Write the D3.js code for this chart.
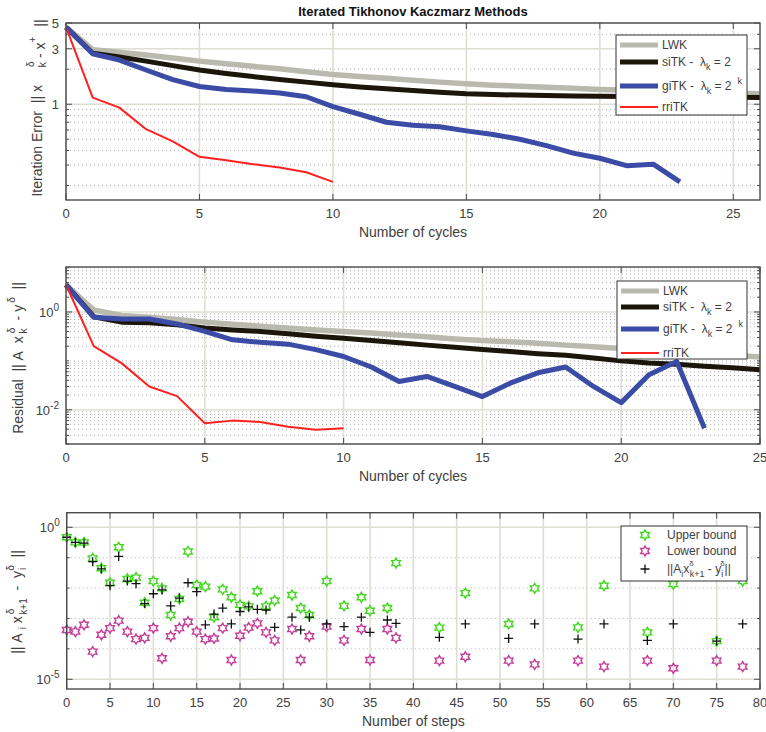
<!DOCTYPE html>
<html>
<head>
<meta charset="utf-8">
<script src="https://cdn.jsdelivr.net/npm/d3@7/dist/d3.min.js"></script>
<style>
  body { margin: 0; background: #fff; }
  text { font-family: "Liberation Sans", Arial, sans-serif; fill: #404040; }
</style>
</head>
<body>
<div class="bbox"></div>
<script>
// ---- data ----
// iteration error per cycle (index = cycle)
const lwkErr = [4.6, 2.95, 2.8, 2.65, 2.5, 2.35, 2.23, 2.12, 2.02, 1.9, 1.8, 1.73, 1.67, 1.61, 1.55, 1.5, 1.46, 1.43, 1.4, 1.37, 1.34, 1.32, 1.3, 1.28, 1.26, 1.25, 1.23]
const siErr = [4.6, 2.75, 2.55, 2.35, 2.15, 1.97, 1.84, 1.73, 1.63, 1.55, 1.47, 1.41, 1.36, 1.31, 1.27, 1.23, 1.21, 1.2, 1.19, 1.18, 1.17, 1.165, 1.16, 1.155, 1.15, 1.15, 1.145]
const giErr = [4.6, 2.72, 2.4, 1.97, 1.63, 1.42, 1.34, 1.3, 1.25, 1.16, 0.955, 0.82, 0.7, 0.66, 0.64, 0.59, 0.55, 0.5, 0.44, 0.38, 0.343, 0.296, 0.305, 0.215]
const rriErr = [4.6, 1.14, 0.935, 0.61, 0.48, 0.353, 0.33, 0.305, 0.285, 0.26, 0.215]

// residual per cycle
const lwkRes = [3.6, 1.1, 0.85, 0.78, 0.7, 0.62, 0.56, 0.51, 0.47, 0.43, 0.4, 0.37, 0.34, 0.31, 0.28, 0.26, 0.245, 0.23, 0.21, 0.195, 0.18, 0.165, 0.15, 0.14, 0.13, 0.12]
const siRes = [3.6, 0.8, 0.62, 0.6, 0.55, 0.47, 0.43, 0.4, 0.36, 0.32, 0.29, 0.26, 0.235, 0.21, 0.19, 0.17, 0.155, 0.14, 0.13, 0.115, 0.1, 0.09, 0.085, 0.078, 0.072, 0.066]
const giRes = [3.6, 0.78, 0.72, 0.72, 0.57, 0.4, 0.27, 0.24, 0.22, 0.17, 0.123, 0.075, 0.038, 0.048, 0.03, 0.0186, 0.035, 0.057, 0.075, 0.03, 0.014, 0.052, 0.097, 0.0042]
const rriRes = [3.6, 0.2, 0.09, 0.03, 0.019, 0.0053, 0.006, 0.0056, 0.0045, 0.0039, 0.0042]

// per step bounds
const steps = [0, 1, 2, 3, 4, 5, 6, 7, 8, 9, 10, 11, 12, 13, 14, 15, 16, 17, 18, 19, 20, 21, 22, 23, 24, 26, 27, 28, 30, 32, 34, 35, 37, 38, 43, 46, 51, 54, 59, 62, 67, 70, 75, 78]
const upper = [0.47, 0.32, 0.32, 0.095, 0.045, 0.015, 0.22, 0.02, 0.022, 0.0033, 0.017, 0.0098, 0.0013, 0.0044, 0.16, 0.0126, 0.0112, 0.0011, 0.0091, 0.005, 0.0028, 0.0025, 0.0079, 0.0025, 0.0039, 0.0059, 0.0022, 0.0013, 0.017, 0.0026, 0.005, 0.0018, 0.0022, 0.066, 5.0e-4, 0.0068, 6.6e-4, 0.0098, 5.1e-4, 0.012, 3.5e-4, 0.0135, 1.8e-4, 0.017]
const lower = [4.2e-4, 3.7e-4, 6.2e-4, 8.1e-5, 2.9e-4, 4.8e-4, 8.5e-4, 3.7e-4, 2.1e-4, 2.3e-4, 4.8e-4, 4.9e-5, 2.6e-4, 4.8e-4, 7.8e-4, 3.7e-4, 2.1e-4, 2.2e-4, 4.8e-4, 4.3e-5, 2.7e-4, 5.0e-4, 6.9e-4, 3.5e-4, 1.9e-4, 4.5e-4, 4.3e-5, 2.6e-4, 5.4e-4, 1.9e-4, 4.5e-4, 4.3e-5, 4.5e-4, 2.3e-4, 4.1e-5, 5.5e-5, 4.1e-5, 3.1e-5, 4.1e-5, 2.6e-5, 4.1e-5, 2.3e-5, 4.1e-5, 2.6e-5]
const resid = [0.47, 0.32, 0.3, 0.074, 0.043, 0.012, 0.11, 0.017, 0.014, 0.0031, 0.0065, 0.0087, 0.0026, 0.0047, 0.015, 0.0076, 6.2e-4, 0.0014, 0.0022, 6.6e-4, 0.0017, 0.0024, 0.002, 0.0019, 5.1e-4, 0.0011, 4.2e-4, 0.0011, 6.6e-4, 5.4e-4, 0.0011, 3.5e-4, 8.9e-4, 6.9e-4, 2.4e-4, 6.6e-4, 2.2e-4, 6.6e-4, 2.1e-4, 6.6e-4, 1.9e-4, 6.6e-4, 1.8e-4, 6.6e-4]

const cycleTicks1 = [0, 5, 10, 15, 20, 25]
const cycleTicks2 = [0, 5, 10, 15, 20, 25]
const stepTicks = [0, 5, 10, 15, 20, 25, 30, 35, 40, 45, 50, 55, 60, 65, 70, 75, 80]
const errTicks = [1, 3, 5]
const errMinor = [0.2, 0.3, 0.4, 0.5, 0.6, 0.7, 0.8, 0.9, 2, 4]
const resTicks = [1, 0.01]
const stepYTicks = [1, 1e-5]
const stepYMinor = [0.1, 0.01, 1e-3, 1e-4]

const C = { lwk: '#bab9ae', si: '#1c1509', gi: '#3a4ca6', rri: '#ff2020', up: '#3fd81c', lo: '#c43d98', axis: '#4a4a4a', grid: '#dfded4' }

const svg = d3.select('.bbox').append('svg')
  .attr('width', 766).attr('height', 732)
  .style('display', 'block')

svg.append('rect').attr('width', 766).attr('height', 732).attr('fill', '#fff')

// log minor values between two decades
let logMinor = (lo, hi, majors) => {
  let out = []
  for (let e = Math.floor(Math.log10(lo)); e <= Math.ceil(Math.log10(hi)); e++) {
    for (let k = 1; k < 10; k++) {
      let v = k * Math.pow(10, e)
      if (v >= lo && v <= hi && !majors.some(m => Math.abs(m - v) / v < 1e-6)) out.push(v)
    }
  }
  return out
}

// text with pieces [text, dy, size, dx]; spaces kept (svg collapses them otherwise)
let addParts = (t, parts) => {
  parts.forEach(p => {
    let s = t.append('tspan').text(p[0].replace(/ /g, '\u00a0'))
    if (p[1]) s.attr('dy', p[1])
    if (p[2]) s.style('font-size', p[2] + 'px')
    if (p[3]) s.attr('dx', p[3])
  })
}

let panel = (cfg) => {
  let g = svg.append('g')
  let x = d3.scaleLinear().domain(cfg.xDomain).range([cfg.left, cfg.right])
  let y = d3.scaleLog().domain(cfg.yDomain).range([cfg.bottom, cfg.top])

  // dotted minor grid
  g.selectAll('.hmin').data(cfg.yMinor).join('line')
    .attr('x1', cfg.left).attr('x2', cfg.right)
    .attr('y1', d => y(d)).attr('y2', d => y(d))
    .attr('stroke', '#9a9a9a').attr('stroke-width', 0.8).attr('stroke-dasharray', '1,3')
  // solid major grid
  g.selectAll('.hmaj').data(cfg.yTicks).join('line')
    .attr('x1', cfg.left).attr('x2', cfg.right)
    .attr('y1', d => y(d)).attr('y2', d => y(d))
    .attr('stroke', C.grid).attr('stroke-width', 1.6)
  g.selectAll('.vmaj').data(cfg.xTicks).join('line')
    .attr('x1', d => x(d)).attr('x2', d => x(d))
    .attr('y1', cfg.top).attr('y2', cfg.bottom)
    .attr('stroke', C.grid).attr('stroke-width', 1.6)

  // ticks (inward, all four sides)
  let tk = g.append('g').attr('stroke', C.axis).attr('stroke-width', 1)
  cfg.xTicks.forEach(d => {
    tk.append('line').attr('x1', x(d)).attr('x2', x(d)).attr('y1', cfg.bottom).attr('y2', cfg.bottom - 6)
    tk.append('line').attr('x1', x(d)).attr('x2', x(d)).attr('y1', cfg.top).attr('y2', cfg.top + 6)
  })
  cfg.yTicks.forEach(d => {
    tk.append('line').attr('x1', cfg.left).attr('x2', cfg.left + 6).attr('y1', y(d)).attr('y2', y(d))
    tk.append('line').attr('x1', cfg.right).attr('x2', cfg.right - 6).attr('y1', y(d)).attr('y2', y(d))
  })
  cfg.yMinor.forEach(d => {
    tk.append('line').attr('x1', cfg.left).attr('x2', cfg.left + 3).attr('y1', y(d)).attr('y2', y(d))
    tk.append('line').attr('x1', cfg.right).attr('x2', cfg.right - 3).attr('y1', y(d)).attr('y2', y(d))
  })

  // tick labels
  g.selectAll('.xl').data(cfg.xTicks).join('text')
    .attr('x', d => x(d)).attr('y', cfg.bottom + 18)
    .attr('text-anchor', 'middle').style('font-size', '13px')
    .text(d => d)
  cfg.yTicks.forEach(d => {
    let t = g.append('text').attr('x', cfg.left - 7).attr('y', y(d) + 5)
      .attr('text-anchor', 'end').style('font-size', '13px')
    if (cfg.pow) {
      t.append('tspan').text('10')
      t.append('tspan').attr('dy', -6).style('font-size', '10px').text(Math.round(Math.log10(d)))
    } else {
      t.text(d)
    }
  })

  g.append('text').attr('x', (cfg.left + cfg.right) / 2).attr('y', cfg.bottom + 37)
    .attr('text-anchor', 'middle').style('font-size', '14px').text(cfg.xLabel)

  return { x, y, g, cfg }
}

let box = (p) => {
  p.g.append('rect')
    .attr('x', p.cfg.left).attr('y', p.cfg.top)
    .attr('width', p.cfg.right - p.cfg.left).attr('height', p.cfg.bottom - p.cfg.top)
    .attr('fill', 'none').attr('stroke', C.axis).attr('stroke-width', 1.4)
}

let yLabel = (xpos, ypos, parts) => {
  let t = svg.append('text')
    .attr('transform', `translate(${xpos},${ypos}) rotate(-90)`)
    .attr('text-anchor', 'middle').style('font-size', '14px')
  addParts(t, parts)
}

let drawLines = (p, series) => {
  let line = d3.line().x((d, i) => p.x(i)).y(d => p.y(d))
  series.forEach(s => {
    p.g.append('path').datum(s.data)
      .attr('d', line).attr('fill', 'none')
      .attr('stroke', s.color).attr('stroke-width', s.w)
      .attr('stroke-linejoin', 'round')
  })
}

let lineLegend = (p, bx, by, bw, bh, rows) => {
  let g = p.g.append('g')
  g.append('rect').attr('x', bx).attr('y', by).attr('width', bw).attr('height', bh)
    .attr('fill', '#fff').attr('stroke', '#333').attr('stroke-width', 1)
  rows.forEach(r => {
    g.append('line').attr('x1', bx + 4).attr('x2', bx + 42).attr('y1', by + r.dy).attr('y2', by + r.dy)
      .attr('stroke', r.color).attr('stroke-width', r.w)
    let t = g.append('text').attr('x', bx + 46).attr('y', by + r.dy + 4).style('font-size', '12px')
    addParts(t, r.parts)
  })
}

const legendRows = (ys) => [
  { dy: ys[0], color: C.lwk, w: 5, parts: [['LWK']] },
  { dy: ys[1], color: C.si, w: 5, parts: [['siTK -  \u03bb'], ['k', 4, 9], [' = 2', -4, 12]] },
  { dy: ys[2], color: C.gi, w: 5, parts: [['giTK -  \u03bb'], ['k', 4, 9], [' = 2', -4, 12], ['k', -6, 9, 6]] },
  { dy: ys[3], color: C.rri, w: 2, parts: [['rriTK']] }
]

// ---- panel 1: iteration error ----
let p1 = panel({
  left: 66, right: 760, top: 23, bottom: 200,
  xDomain: [0, 26], yDomain: [0.15, 5],
  xTicks: cycleTicks1, yTicks: errTicks, yMinor: errMinor,
  xLabel: 'Number of cycles'
})
drawLines(p1, [
  { data: lwkErr, color: C.lwk, w: 5.5 },
  { data: siErr, color: C.si, w: 5 },
  { data: giErr, color: C.gi, w: 5 },
  { data: rriErr, color: C.rri, w: 2 }
])
box(p1)
lineLegend(p1, 616, 35, 131, 80, legendRows([10, 27, 51, 72]))
svg.append('text').attr('x', 413).attr('y', 16).attr('text-anchor', 'middle')
  .style('font-size', '13px').style('font-weight', 'bold').style('fill', '#111')
  .text('Iterated Tikhonov Kaczmarz Methods')
yLabel(42, 108, [['Iteration Error  || x'], ['\u03b4', -8, 10, 18], ['k', 12, 11, -6], [' - x', -1, 14], ['+', -9, 10], ['||', 9, 14, 10]])

// ---- panel 2: residual ----
let p2 = panel({
  left: 66, right: 760, top: 267, bottom: 444,
  xDomain: [0, 25], yDomain: [Math.pow(10, -2.7), Math.pow(10, 0.92)],
  xTicks: cycleTicks2, yTicks: resTicks,
  yMinor: logMinor(Math.pow(10, -2.7), Math.pow(10, 0.92), resTicks),
  xLabel: 'Number of cycles', pow: true
})
drawLines(p2, [
  { data: lwkRes, color: C.lwk, w: 5.5 },
  { data: siRes, color: C.si, w: 5 },
  { data: giRes, color: C.gi, w: 5 },
  { data: rriRes, color: C.rri, w: 2 }
])
box(p2)
lineLegend(p2, 617, 281, 130, 78, legendRows([10, 26, 48, 72]))
yLabel(23, 358, [['Residual  || A  x'], ['\u03b4', -8, 10, 3], ['k', 12, 11, -6], ['  - y', -4, 14], ['\u03b4', -8, 10, 2], ['  ||', 8, 14]])

// ---- panel 3: per step ----
let p3 = panel({
  left: 66.7, right: 760, top: 512.7, bottom: 689,
  xDomain: [0, 80], yDomain: [Math.pow(10, -5.32), Math.pow(10, 0.48)],
  xTicks: stepTicks, yTicks: stepYTicks, yMinor: stepYMinor,
  xLabel: 'Number of steps', pow: true
})
// hexagram outline
let hexagram = (r) => {
  let pts = []
  for (let i = 0; i < 12; i++) {
    let a = -Math.PI / 2 + i * Math.PI / 6
    let rr = i % 2 === 0 ? r : r / Math.sqrt(3)
    pts.push([rr * Math.cos(a), rr * Math.sin(a)])
  }
  return 'M' + pts.map(p => p[0].toFixed(2) + ',' + p[1].toFixed(2)).join('L') + 'Z'
}
let hex = hexagram(5)
const plusPath = 'M-4.5,0H4.5M0,-4.5V4.5'
let mark = (g, cx, cy, color, kind) => {
  if (kind === 'hex') {
    g.append('path').attr('d', hex).attr('transform', `translate(${cx},${cy})`)
      .attr('fill', 'none').attr('stroke', color).attr('stroke-width', 1.4)
  } else {
    g.append('path').attr('d', plusPath).attr('transform', `translate(${cx},${cy})`)
      .attr('stroke', color).attr('stroke-width', 1.3)
  }
}
let markers = (data, color, kind) => {
  let g = p3.g.append('g')
  data.forEach((v, i) => mark(g, p3.x(steps[i]), p3.y(v), color, kind))
}
markers(upper, C.up, 'hex')
markers(lower, C.lo, 'hex')
markers(resid, '#111', 'plus')
box(p3)

// legend for panel 3
let lg = p3.g.append('g')
lg.append('rect').attr('x', 621).attr('y', 526).attr('width', 126).attr('height', 55)
  .attr('fill', '#fff').attr('stroke', '#333').attr('stroke-width', 1)
const stepLegend = [
  { y: 535, color: C.up, kind: 'hex', parts: [['Upper bound']] },
  { y: 551, color: C.lo, kind: 'hex', parts: [['Lower bound']] },
  { y: 569, color: '#111', kind: 'plus', parts: [['||A'], ['i', 4, 9], ['x', -4, 12], ['\u03b4', -7, 8], ['k+1', 11, 9, -4], [' - y', -4, 12], ['i', 4, 9], ['\u03b4', -11, 8, -3], ['||', 7, 12]] }
]
stepLegend.forEach(r => {
  mark(lg, 645, r.y, r.color, r.kind)
  let t = lg.append('text').attr('x', 667).attr('y', r.y + 4).style('font-size', '12px')
  addParts(t, r.parts)
})
yLabel(22, 602, [['|| A'], ['i', 4, 10, 4], [' x', -4, 14], ['\u03b4', -8, 10, 2], ['k+1', 13, 10, -6], ['  -  y', -5, 14], ['i', 4, 10, 1], ['\u03b4', -12, 10, -3], ['  ||', 8, 14]])
</script>
</body>
</html>
